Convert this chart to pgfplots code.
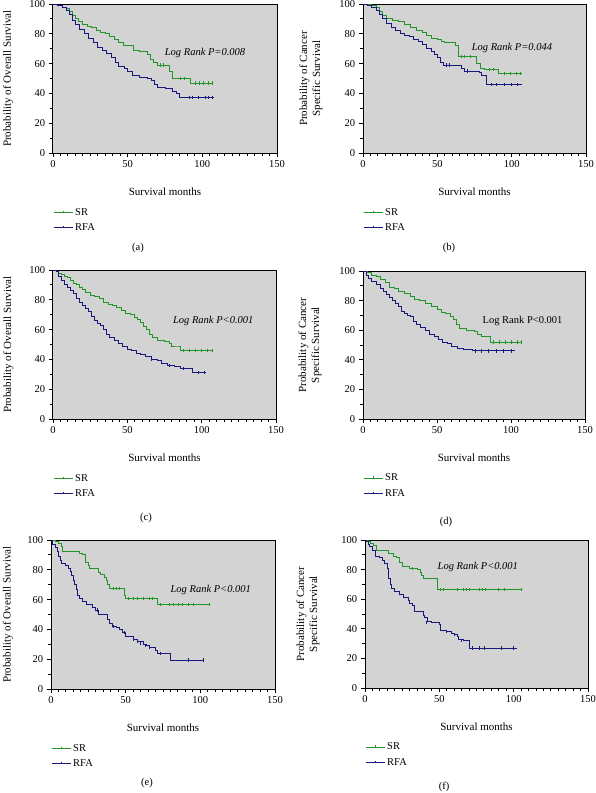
\documentclass[border=0pt]{standalone}
\usepackage{pgfplots}
\pgfplotsset{compat=1.18}
\usepackage{fontspec}
\setmainfont{Liberation Serif}
\definecolor{srgreen}{RGB}{34,150,40}
\definecolor{rfablue}{RGB}{25,25,125}
\definecolor{bggray}{RGB}{211,211,211}
\tikzset{lr/.style={font=\fontsize{10.5}{12}\selectfont\itshape}}
\pgfplotsset{
  km/.style={
    scale only axis, anchor=south west, clip=false,
    xmin=0, xmax=150, ymin=0, ymax=100,
    xtick={0,50,100,150}, ytick={0,20,40,60,80,100},
    minor x tick num=9, minor y tick num=1,
    tick align=outside, xtick pos=bottom, ytick pos=left,
    major tick length=4pt, minor tick length=3pt,
    tick style={black, line width=0.9pt},
    axis background/.style={fill=bggray},
    axis line style={line width=1pt},
    /pgf/number format/assume math mode=true,
    tick label style={font=\fontsize{10.5}{12}\selectfont},
    label style={font=\fontsize{11}{13}\selectfont},
    xlabel={Survival months},
    xlabel style={at={(axis description cs:0.5,-0.262)}, anchor=center},
    legend style={at={(axis description cs:0,-0.355)}, anchor=north west, draw=none, fill=none,
      font=\fontsize{10.5}{12}\selectfont, row sep=3pt, inner sep=0pt, cells={anchor=west}},
    legend image code/.code={\draw[#1, line width=1pt] (0pt,0pt) -- (19pt,0pt); \draw[#1, line width=0.8pt] (9.5pt,0pt) -- (9.5pt,1.8pt);},
    legend cell align=left,
  },
  sr/.style={srgreen, line width=0.9pt, const plot, mark=none},
  rfa/.style={rfablue, line width=0.9pt, const plot, mark=none},
  censg/.style={srgreen, only marks, mark=|, mark size=1.6pt, forget plot, line width=0.7pt},
  censb/.style={rfablue, only marks, mark=|, mark size=1.6pt, forget plot, line width=0.7pt},
}
\begin{document}
\fontsize{11}{13}\selectfont
\begin{tikzpicture}
\useasboundingbox (0,0) rectangle (596pt,-793pt);
% (a)
\begin{axis}[km, at={(53pt,-153pt)}, width=224pt, height=149pt,
  ylabel={Probability of Overall Survival},
  ylabel style={at={(axis description cs:-0.2,0.5)}, anchor=center}]
\addplot[sr] coordinates {(0,100)(3,99)(6,98)(9,97)(11,95)(13,92)(15,90)(17,88)(20,86)(23,85)(26,84)(29,82)(32,81)(35,80)(38,78)(41,76)(44,74)(47,72)(52,72)(54,69)(58,68)(61,68)(63,66)(65,63)(67,61)(70,59)(76,59)(78,55)(80,50)(92,47)(107,47)};
\addlegendentry{SR}
\addplot[rfa] coordinates {(0,100)(3,99)(6,98)(9,96)(11,93)(13,89)(15,86)(18,83)(21,80)(24,77)(27,74)(30,71)(33,69)(36,67)(39,64)(42,61)(44,58)(48,57)(50,55)(53,52)(58,51)(61,51)(63,50)(66,49)(68,46)(70,44)(75,43)(78,43)(80,41)(83,40)(85,37)(108,37)};
\addlegendentry{RFA}
\addplot[censg] coordinates {(72,59)(74,59)(85,50)(88,50)(95,47)(98,47)(101,47)(104,47)(107,47)};
\addplot[censb] coordinates {(91,37)(93,37)(97,37)(102,37)(104,37)(107,37)};
\node[lr] at (axis cs:101.8,67) {Log Rank P=0.008};
\end{axis}
% (b)
\begin{axis}[km, at={(363pt,-153pt)}, width=223pt, height=149pt,
  ylabel={Probability of Cancer\\Specific Survival},
  ylabel style={at={(axis description cs:-0.233,0.5)}, anchor=center, align=center}]
\addplot[sr] coordinates {(0,100)(3,99.5)(6,99)(9,98)(11,95)(13,92)(16,90)(20,89)(24,88)(28,86)(32,84)(36,82)(40,81)(43,79)(46,77)(50,76)(53,75)(55,74)(60,74)(62,72)(64,65)(75,65)(76,60)(79,57)(82,56)(90,56)(91,53.5)(107,53.5)};
\addlegendentry{SR}
\addplot[rfa] coordinates {(0,100)(3,99)(6,98)(9,96)(11,93)(13,90)(16,87)(19,84)(22,82)(25,80)(28,79)(31,78)(34,76)(37,75)(40,73)(43,70)(46,68)(48,66)(50,64)(52,61)(54,59)(64,58.5)(66,57)(68,55)(75,55)(78,54)(80,52)(83,46)(107,46)};
\addlegendentry{RFA}
\addplot[censg] coordinates {(66,65)(68,65)(72,65)(85,56)(88,56)(95,53.5)(99,53.5)(103,53.5)(106,53.5)};
\addplot[censb] coordinates {(56,59)(58,59)(70,55)(86,46)(90,46)(95,46)(100,46)(104,46)};
\node[lr] at (axis cs:100.2,70.5) {Log Rank P=0.044};
\end{axis}
% (c)
\begin{axis}[km, at={(53pt,-419pt)}, width=223pt, height=149pt,
  ylabel={Probability of Overall Survival},
  ylabel style={at={(axis description cs:-0.2,0.5)}, anchor=center}]
\addplot[sr] coordinates {(0,100)(2,99)(4,98)(6,97)(8,96)(10,95)(12,93)(14,91)(16,90)(18,88)(20,87)(22,85)(25,83)(28,82)(31,81)(34,78)(37,77)(40,76)(43,75)(46,73)(49,71)(52,70)(55,68)(57,67)(59,65)(61,62)(63,60)(65,57)(67,55)(70,53)(75,52)(78,51)(80,49)(84,49)(86,46)(107,46)};
\addlegendentry{SR}
\addplot[rfa] coordinates {(0,100)(2,99)(4,96)(6,93)(8,90)(10,88)(12,86)(14,84)(16,81)(18,78)(20,76)(22,74)(24,72)(26,69)(28,66)(30,64)(32,63)(34,60)(36,57)(38,55)(41,53)(44,51)(47,49)(50,47)(53,46)(56,44)(59,43)(62,42)(66,40)(70,39)(73,37)(77,36)(82,35)(86,34)(93,34)(94,31)(103,31)};
\addlegendentry{RFA}
\addplot[censg] coordinates {(88,46)(92,46)(96,46)(100,46)(104,46)(107,46)};
\addplot[censb] coordinates {(66,40)(78,36)(88,34)(98,31)(102,31)};
\node[lr] at (axis cs:107.8,65.8) {Log Rank P<0.001};
\end{axis}
% (d)
\begin{axis}[km, at={(363pt,-419pt)}, width=222pt, height=148pt,
  ylabel={Probability of Cancer\\Specific Survival},
  ylabel style={at={(axis description cs:-0.239,0.5)}, anchor=center, align=center}]
\addplot[sr] coordinates {(0,100)(3,99)(6,97)(9,96)(12,94)(15,92)(18,89)(21,88)(24,86)(28,85)(32,83)(35,81)(38,80)(42,78)(46,76)(50,74)(53,72)(56,71)(59,69)(61,67)(63,64)(65,61)(70,60)(75,59)(77,57)(80,56)(83,56)(86,52)(107,52)};
\addlegendentry{SR}
\addplot[rfa] coordinates {(0,100)(2,97)(4,95)(6,93)(9,91)(12,88)(14,86)(16,84)(18,82)(20,80)(22,78)(24,76)(26,73)(28,71)(30,70)(32,69)(34,66)(36,64)(39,62)(42,60)(45,57)(48,56)(51,54)(54,52)(57,51)(60,49)(64,48)(68,47)(74,46)(103,46)};
\addlegendentry{RFA}
\addplot[censg] coordinates {(88,52)(92,52)(96,52)(100,52)(104,52)(107,52)};
\addplot[censb] coordinates {(76,46)(80,46)(85,46)(90,46)(95,46)(100,46)};
\node[font=\fontsize{10.5}{12}\selectfont] at (axis cs:107.8,66.3) {Log Rank P<0.001};
\end{axis}
% (e)
\begin{axis}[km, at={(51pt,-689pt)}, width=224pt, height=149pt,
  ylabel={Probability of Overall Survival},
  ylabel style={at={(axis description cs:-0.192,0.5)}, anchor=center}]
\addplot[sr] coordinates {(0,100)(3,99)(5,98)(7,96)(8,92)(17,92)(19,91)(21,90)(23,85)(25,83)(26,81)(31,81)(32,78)(33,77)(36,75)(37,73)(38,70)(39,67.5)(48,67.5)(49,63)(50,60.5)(70,60.5)(71,56.5)(106,56.5)};
\addlegendentry{SR}
\addplot[rfa] coordinates {(0,100)(1,97)(3,95)(4,92)(5,89)(6,86)(7,84)(10,83)(12,81)(13,79)(14,76)(15,73)(16,70)(17,67)(18,63)(19,61)(21,59)(24,57)(28,55)(30,53)(32,50)(37,50)(38,47)(39,44)(41,42)(44,41)(46,40)(48,38)(50,35)(55,33)(58,32)(62,30)(64,29)(66,28)(70,26)(71,24)(79,24)(80,19.5)(102,19.5)};
\addlegendentry{RFA}
\addplot[censg] coordinates {(42,67.5)(44,67.5)(46,67.5)(52,60.5)(55,60.5)(58,60.5)(62,60.5)(66,60.5)(68,60.5)(73,56.5)(79,56.5)(82,56.5)(85,56.5)(88,56.5)(92,56.5)(95,56.5)(106,56.5)};
\addplot[censb] coordinates {(31,53)(42,42)(49,38)(55,33)(58,32)(60,30.5)(63,29)(66,28)(73,24)(92,19.5)(102,19.5)};
\node[lr] at (axis cs:107,66.5) {Log Rank P<0.001};
\end{axis}
% (f)
\begin{axis}[km, at={(365pt,-688pt)}, width=223pt, height=148pt,
  ylabel={Probability of Cancer\\Specific Survival},
  ylabel style={at={(axis description cs:-0.256,0.5)}, anchor=center, align=center}]
\addplot[sr] coordinates {(0,100)(2,99)(4,98)(6,96)(8,93)(16,91)(19,89)(21,88)(23,85)(25,82)(30,81)(33,81)(35,80)(37,78)(38,76)(39,74)(48,74)(49,66.3)(105,66.3)};
\addlegendentry{SR}
\addplot[rfa] coordinates {(0,100)(1,99)(2,97)(3,95.5)(5,93)(7,89)(10,88)(12,86)(13,84)(15,81)(16,74)(17,70)(18,67)(20,65)(23,63)(26,61)(29,59)(30,57)(32,56)(33,52)(38,52)(39,49)(40,48)(42,45)(45,44)(50,43)(51,39)(55,38)(58,37)(60,36)(62,35)(63,33)(66,32)(70,27)(102,27)};
\addlegendentry{RFA}
\addplot[censg] coordinates {(32,81)(51,66.3)(53,66.3)(62,66.3)(66,66.3)(68,66.3)(70,66.3)(77,66.3)(79,66.3)(81,66.3)(90,66.3)(94,66.3)(105,66.3)};
\addplot[censb] coordinates {(41,44)(55,38)(60,36)(65,32)(72,27)(77,27)(80,27)(92,27)(100,27)};
\node[lr] at (axis cs:75.9,81.6) {Log Rank P<0.001};
\end{axis}
\node[font=\fontsize{10.5}{12}\selectfont] at (138pt,-248pt) {(a)};
\node[font=\fontsize{10.5}{12}\selectfont] at (449pt,-248pt) {(b)};
\node[font=\fontsize{10.5}{12}\selectfont] at (146pt,-518pt) {(c)};
\node[font=\fontsize{10.5}{12}\selectfont] at (446pt,-522pt) {(d)};
\node[font=\fontsize{10.5}{12}\selectfont] at (147pt,-783pt) {(e)};
\node[font=\fontsize{10.5}{12}\selectfont] at (444pt,-787pt) {(f)};
\end{tikzpicture}
\end{document}
